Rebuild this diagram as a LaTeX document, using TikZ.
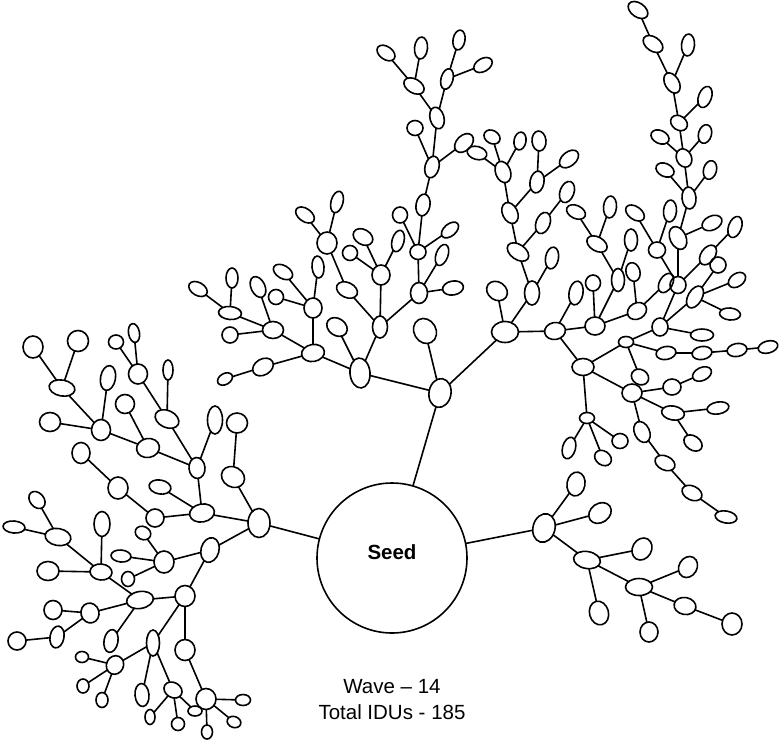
\documentclass[tikz,border=0pt]{standalone}
\usepackage{fontspec}
\setmainfont{Liberation Sans}
\usetikzlibrary{shapes.geometric}
\newcommand\nd[6]{\node[el,minimum width=#4pt,minimum height=#5pt,rotate=#6] (#1) at (#2,#3) {};}
\tikzset{
  el/.style={ellipse,draw,line width=1.6pt,inner sep=0pt,outer sep=0pt},
  edge/.style={line width=1.6pt},
  lbl/.style={font=\fontsize{20.5}{25}\selectfont,inner sep=0pt}
}
\begin{document}
\begin{tikzpicture}[x=1pt,y=-1pt]
\useasboundingbox (0,0) rectangle (779,742);
% seed
\node[circle,draw,line width=1.6pt,minimum size=150pt,inner sep=0pt,outer sep=0pt] (S) at (392,558) {};
\node[lbl,font=\fontsize{20.5}{25}\selectfont\bfseries] (seedtxt) at (392,552) {Seed};
\node[lbl] (wave) at (392,687) {Wave – 14};
\node[lbl] (total) at (392,712) {Total IDUs - 185};
% right branch
\nd{r0}{544}{528}{22}{29}{-15}
\nd{r1}{576}{484}{18}{24}{-10}
\nd{r2}{600}{513}{24}{19}{35}
\nd{r3}{587}{560}{27}{17}{-10}
\nd{r4}{642}{549}{19}{23}{-30}
\nd{r5}{599}{613}{19}{24}{15}
\nd{r6}{639}{587}{27}{17}{0}
\nd{r7}{688}{567}{18}{22}{-30}
\nd{r8}{649}{632}{18}{20}{0}
\nd{r9}{685}{606}{22}{17}{-10}
\nd{r10}{732}{624}{20}{22}{0}
% top branch
\nd{t0}{440}{393}{22}{29}{-10}
\nd{tl}{360}{373}{20}{30}{5}
\nd{tb}{425}{331}{22}{26}{30}
\nd{tr}{505}{332}{27}{21}{0}
\nd{tla}{337}{327}{22}{17}{-35}
\nd{tm}{313}{353}{23}{17}{10}
\nd{tc}{380}{327}{15}{22}{0}
\nd{td}{381}{275}{18}{20}{0}
\nd{te}{419}{293}{17}{21}{0}
\nd{tf}{347}{290}{22}{15}{-25}
\nd{tg}{327}{243}{20}{22}{0}
\nd{tga}{305}{215}{21}{13}{-35}
\nd{tgb}{337}{202}{12}{22}{-15}
\nd{tda}{350}{253}{15}{15}{0}
\nd{tdb}{363}{237}{21}{15}{-30}
\nd{tdc}{398}{241}{12}{22}{-15}
\nd{tea}{418}{252}{16}{15}{0}
\nd{teb}{442}{255}{12}{22}{-20}
\nd{tec}{453}{288}{21}{14}{10}
\nd{ua}{400}{215}{15}{16}{0}
\nd{ub}{423}{205}{14}{22}{-10}
\nd{uc}{450}{230}{12}{20}{-50}
\nd{ud}{432}{167}{14}{22}{-15}
\nd{ue}{415}{128}{16}{15}{0}
\nd{uf}{437}{118}{14}{22}{15}
\nd{ug}{464}{143}{15}{22}{-45}
\nd{uh}{414}{86}{22}{14}{-30}
\nd{ui}{447}{79}{12}{21}{-15}
\nd{uj}{386}{53}{20}{13}{-35}
\nd{uk}{421}{48}{13}{22}{-5}
\nd{ul}{459}{40}{12}{20}{-10}
\nd{um}{483}{65}{20}{13}{30}
\nd{ma}{313}{308}{18}{20}{0}
\nd{mb}{273}{330}{21}{17}{0}
\nd{mc}{263}{367}{22}{16}{30}
\nd{md}{225}{379}{16}{11}{30}
\nd{me}{276}{297}{15}{15}{0}
\nd{mf}{283}{272}{21}{13}{-30}
\nd{mg}{318}{267}{12}{22}{5}
\nd{mh}{230}{313}{23}{13}{-5}
\nd{mi}{230}{335}{16}{16}{0}
\nd{mj}{258}{287}{14}{22}{25}
\nd{mk}{198}{289}{20}{13}{-30}
\nd{ml}{232}{278}{12}{20}{0}
\nd{va}{497}{291}{22}{18}{-35}
\nd{nf}{532}{293}{15}{24}{0}
\nd{qa}{555}{331}{21}{17}{10}
\nd{nfa}{552}{258}{13}{22}{-10}
\nd{nd}{518}{252}{24}{15}{-35}
\nd{nb}{510}{213}{15}{22}{25}
\nd{ne}{543}{223}{14}{22}{-20}
\nd{nea}{567}{192}{14}{22}{-20}
\nd{na}{503}{172}{15}{22}{20}
\nd{nc}{537}{182}{14}{22}{-10}
\nd{naa}{477}{153}{20}{13}{-15}
\nd{nab}{492}{137}{17}{13}{-30}
\nd{nac}{520}{141}{12}{18}{-10}
\nd{nca}{539}{141}{14}{20}{5}
\nd{ncb}{569}{159}{14}{22}{-50}
\nd{qc}{576}{293}{14}{24}{-10}
\nd{qb}{595}{326}{20}{18}{0}
\nd{qg}{583}{367}{22}{17}{0}
\nd{qd}{593}{283}{15}{16}{0}
\nd{qe}{618}{280}{13}{23}{0}
\nd{qf}{637}{311}{20}{16}{30}
\nd{qea}{597}{244}{22}{14}{-30}
\nd{qeb}{631}{240}{13}{22}{0}
\nd{qec}{576}{212}{20}{13}{-25}
\nd{qed}{610}{207}{13}{22}{-5}
\nd{qfa}{633}{272}{14}{19}{15}
\nd{qfb}{666}{283}{13}{21}{-30}
\nd{qh}{626}{342}{15}{11}{0}
\nd{qgb}{632}{393}{20}{18}{0}
\nd{qgc}{587}{418}{15}{11}{0}
\nd{qi}{660}{327}{16}{18}{0}
\nd{qhb}{640}{377}{18}{15}{-30}
\nd{cha}{666}{353}{20}{13}{10}
\nd{chb}{702}{353}{20}{13}{10}
\nd{chc}{737}{350}{20}{13}{10}
\nd{chd}{768}{347}{20}{12}{15}
\nd{qj}{678}{285}{16}{17}{0}
\nd{qk}{695}{297}{14}{24}{-30}
\nd{qic}{702}{335}{23}{12}{0}
\nd{qka}{718}{265}{16}{16}{0}
\nd{qkb}{737}{280}{19}{13}{35}
\nd{qkc}{730}{314}{21}{12}{-5}
\nd{spa}{678}{238}{16}{24}{25}
\nd{qjb}{657}{250}{17}{16}{0}
\nd{qjc}{708}{255}{14}{22}{-35}
\nd{qjd}{735}{227}{13}{22}{-20}
\nd{qje}{635}{213}{21}{13}{-35}
\nd{qjf}{670}{211}{13}{22}{-5}
\nd{spb}{689}{198}{14}{22}{5}
\nd{spab}{712}{223}{21}{14}{25}
\nd{spc}{684}{158}{15}{19}{25}
\nd{spba}{665}{170}{19}{13}{-25}
\nd{spbb}{710}{170}{13}{19}{-15}
\nd{spca}{660}{137}{19}{13}{-25}
\nd{spcb}{705}{134}{13}{19}{-15}
\nd{spd}{679}{123}{18}{14}{-35}
\nd{spda}{705}{97}{13}{22}{-20}
\nd{spe}{672}{83}{14}{22}{30}
\nd{spf}{653}{44}{22}{14}{-35}
\nd{spea}{688}{45}{13}{22}{-5}
\nd{spg}{638}{10}{22}{14}{-35}
\nd{wa}{672}{387}{18}{16}{0}
\nd{wb}{702}{374}{20}{13}{25}
\nd{wc}{673}{413}{23}{14}{-10}
\nd{wd}{718}{408}{22}{12}{10}
\nd{we}{693}{443}{20}{14}{-35}
\nd{wf}{642}{432}{15}{22}{25}
\nd{wg}{665}{463}{21}{14}{-25}
\nd{wh}{692}{493}{21}{14}{-25}
\nd{wi}{726}{517}{22}{12}{-10}
\nd{xa}{569}{448}{13}{22}{-15}
\nd{xb}{620}{441}{16}{15}{0}
\nd{xc}{603}{458}{18}{14}{-35}
% left branch
\nd{lz}{259}{523}{22}{29}{0}
\nd{la}{233}{477}{24}{20}{-30}
\nd{lb}{237}{423}{21}{20}{0}
\nd{pp}{202}{513}{25}{18}{10}
\nd{qq}{210}{550}{18}{25}{-15}
\nd{pa}{197}{468}{16}{21}{5}
\nd{pb}{160}{487}{22}{14}{-10}
\nd{pc}{155}{518}{18}{18}{0}
\nd{pd}{215}{420}{15}{28}{0}
\nd{pe}{167}{419}{25}{17}{-25}
\nd{pf}{148}{448}{23}{19}{10}
\nd{pg}{138}{374}{19}{20}{0}
\nd{ph}{168}{370}{10}{20}{0}
\nd{pi}{116}{342}{15}{14}{0}
\nd{pj}{134}{333}{11}{19}{10}
\nd{pk}{101}{430}{19}{21}{0}
\nd{pl}{125}{404}{19}{19}{0}
\nd{pm}{62}{388}{26}{16}{-10}
\nd{pn}{50}{422}{21}{19}{0}
\nd{po}{108}{378}{15}{25}{-10}
\nd{pq}{33}{347}{20}{22}{0}
\nd{pr}{78}{341}{21}{21}{0}
\nd{ps}{118}{488}{20}{22}{0}
\nd{pt}{81}{453}{18}{21}{0}
\nd{qqa}{164}{562}{20}{22}{0}
\nd{qqb}{185}{596}{20}{21}{0}
\nd{qqc}{143}{533}{16}{13}{-25}
\nd{qqd}{121}{556}{20}{12}{-5}
\nd{qqe}{128}{579}{13}{15}{0}
\nd{qqf}{140}{600}{27}{17}{10}
\nd{qqg}{153}{643}{13}{26}{0}
\nd{qqh}{185}{650}{20}{21}{0}
\nd{qqi}{101}{572}{22}{16}{-5}
\nd{qqj}{90}{613}{18}{20}{15}
\nd{qqk}{111}{641}{14}{23}{-10}
\nd{qql}{58}{537}{26}{17}{-10}
\nd{qqm}{48}{571}{22}{19}{0}
\nd{qqn}{102}{524}{16}{25}{0}
\nd{qqo}{37}{500}{14}{19}{40}
\nd{qqp}{14}{527}{22}{12}{-5}
\nd{qqq}{53}{610}{18}{19}{0}
\nd{qqr}{57}{637}{14}{22}{-10}
\nd{qqs}{17}{641}{18}{18}{0}
\nd{qqt}{115}{665}{17}{19}{-25}
\nd{qqu}{142}{695}{14}{23}{5}
\nd{qqv}{173}{690}{19}{15}{-30}
\nd{qqw}{82}{657}{13}{11}{0}
\nd{qqx}{83}{686}{12}{14}{0}
\nd{qqy}{102}{700}{12}{15}{0}
\nd{qqz}{195}{711}{14}{10}{0}
\nd{qra}{150}{717}{10}{15}{0}
\nd{qrb}{178}{724}{13}{13}{0}
\nd{qrc}{206}{699}{20}{21}{0}
\nd{qrd}{207}{732}{11}{14}{0}
\nd{qre}{234}{722}{14}{11}{-20}
\nd{qrf}{243}{700}{15}{11}{0}
% edges
\foreach \a/\b in {S/r0,r0/r1,r0/r2,r0/r3,r3/r4,r3/r5,r3/r6,r6/r7,r6/r8,r6/r9,r9/r10,
 S/t0,t0/tl,t0/tb,t0/tr,
 tl/tla,tl/tm,tl/tc,tc/td,tc/te,tc/tf,tf/tg,tg/tga,tg/tgb,td/tda,td/tdb,td/tdc,
 te/tea,te/teb,te/tec,tea/ua,tea/ub,tea/uc,ub/ud,ud/ue,ud/uf,ud/ug,uf/uh,uf/ui,uh/uj,uh/uk,ui/ul,ui/um,
 tm/ma,tm/mb,tm/mc,mc/md,ma/me,ma/mf,ma/mg,mb/mh,mb/mi,mb/mj,mh/mk,mh/ml,
 tr/va,tr/nf,tr/qa,nf/nfa,nf/nd,nd/nb,nd/ne,ne/nea,nb/na,nb/nc,na/naa,na/nab,na/nac,nc/nca,nc/ncb,
 qa/qc,qa/qb,qa/qg,qb/qd,qb/qe,qb/qf,qe/qea,qe/qeb,qea/qec,qea/qed,qf/qfa,qf/qfb,
 qg/qh,qg/qgb,qg/qgc,qh/qi,qh/cha,cha/chb,chb/chc,chc/chd,qh/qhb,qi/qj,qi/qk,qi/qic,
 qk/qka,qk/qkb,qk/qkc,qj/spa,qj/qjb,qj/qjc,qjc/qjd,qjb/qje,qjb/qjf,spa/spb,spa/spab,
 spb/spba,spb/spbb,spb/spc,spc/spca,spc/spcb,spc/spd,spd/spda,spd/spe,spe/spf,spe/spea,spf/spg,
 qgb/wa,wa/wb,qgb/wc,wc/wd,wc/we,qgb/wf,wf/wg,wg/wh,wh/wi,qgc/xa,qgc/xb,qgc/xc,
 S/lz,lz/la,la/lb,lz/pp,lz/qq,pp/pa,pp/pb,pp/pc,pa/pd,pa/pe,pa/pf,pe/pg,pe/ph,pg/pi,pg/pj,
 pf/pk,pf/pl,pk/pm,pk/pn,pk/po,pm/pq,pm/pr,pc/ps,ps/pt,
 qq/qqa,qq/qqb,qqa/qqc,qqa/qqd,qqa/qqe,qqb/qqf,qqb/qqg,qqb/qqh,qqf/qqi,qqf/qqj,qqf/qqk,
 qqi/qql,qqi/qqm,qqi/qqn,qql/qqo,qql/qqp,qqj/qqq,qqj/qqr,qqr/qqs,qqg/qqt,qqg/qqu,qqg/qqv,
 qqt/qqw,qqt/qqx,qqt/qqy,qqv/qqz,qqv/qra,qqv/qrb,qqh/qrc,qrc/qrd,qrc/qre,qrc/qrf}
 {\draw[edge] (\a) -- (\b);}
\end{tikzpicture}
\end{document}
